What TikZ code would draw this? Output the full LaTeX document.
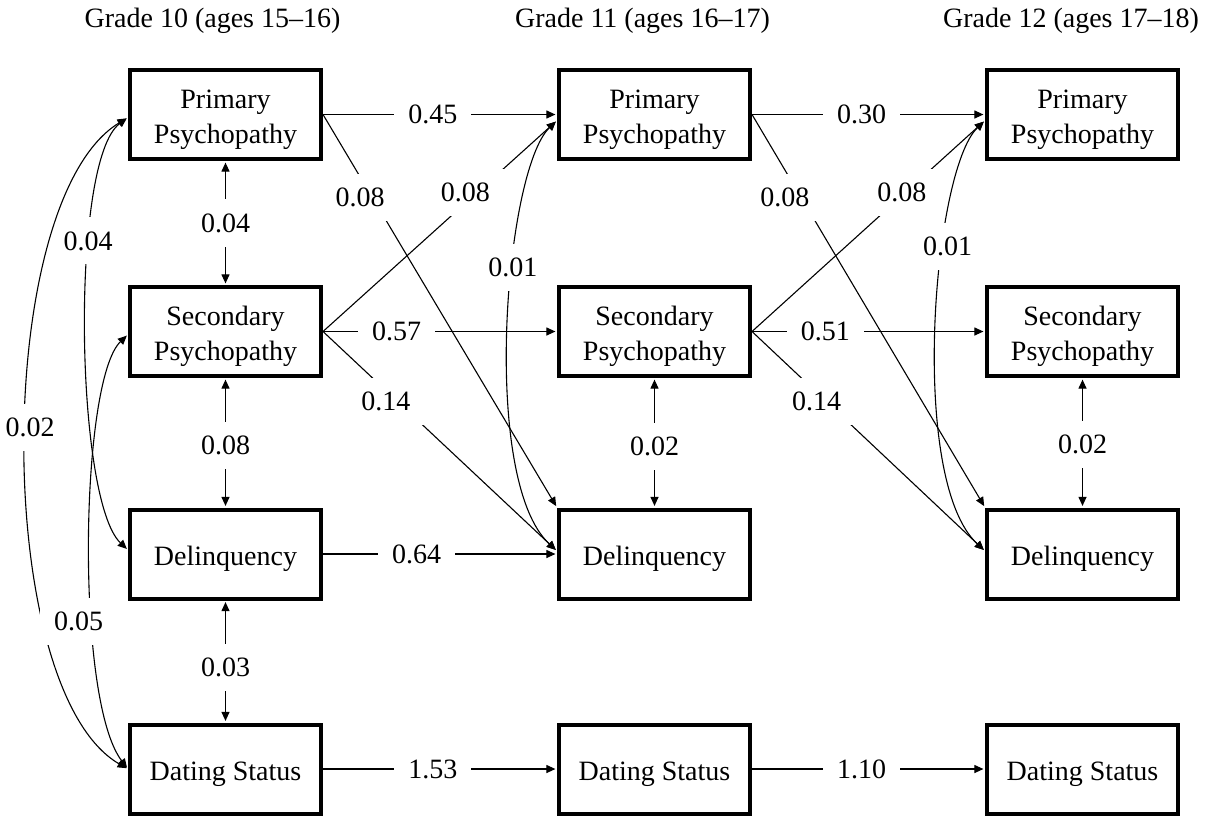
\documentclass[tikz,border=0pt]{standalone}
\usepackage{fontspec}
\setmainfont{Liberation Serif}
\usetikzlibrary{arrows.meta,calc}
% box caption: centred lines, set a little below the geometric centre
\newcommand{\boxtext}[1]{\raisebox{-2pt}[\height][\depth]{\begin{tabular}{@{}c@{}}#1\end{tabular}}}
\begin{document}
\begin{tikzpicture}[x=0.5pt,y=-0.5pt,
  txt/.style={font=\fontsize{14}{17.5}\selectfont},
  var/.style={txt,draw,line width=2pt,minimum width=95.5pt,minimum height=44.5pt,inner sep=0pt},
  conn/.style={line width=0.55pt,shorten >=0.8pt,-{Triangle[length=4.5pt,width=4pt]}},
  cov/.style={line width=0.55pt,shorten >=0.8pt,shorten <=0.8pt,{Triangle[length=4.5pt,width=4pt]}-{Triangle[length=4.5pt,width=4pt]}},
  coef/.style={txt,fill=white,inner sep=7pt}]
\useasboundingbox (0,0) rectangle (1209,815);

% column headings
\node[txt] (h10) at (212.5,21) {Grade 10 (ages 15--16)};
\node[txt] (h11) at (642.5,21) {Grade 11 (ages 16--17)};
\node[txt] (h12) at (1071,21) {Grade 12 (ages 17--18)};

% variables, one column per grade
\foreach \g/\x in {10/225.5,11/654.5,12/1082.5}{
  \node[var] (P\g) at (\x,114.5) {\boxtext{Primary\\Psychopathy}};
  \node[var] (S\g) at (\x,331.5) {\boxtext{Secondary\\Psychopathy}};
  \node[var] (D\g) at (\x,554) {\boxtext{Delinquency}};
  \node[var] (T\g) at (\x,769) {\boxtext{Dating Status}};
}

% attachment points on the left sides
\coordinate (P10a) at ($(P10.west)+(0,3)$);
\coordinate (S10a) at ($(S10.west)+(0,3)$);
\coordinate (D10a) at ($(D10.west)+(0,-4)$);
\coordinate (P11a) at ($(P11.west)+(0,6)$);
\coordinate (D11a) at ($(D11.west)+(0,-3)$);
\coordinate (P12a) at ($(P12.west)+(0,6)$);
\coordinate (D12a) at ($(D12.west)+(0,-3)$);

% within-grade covariances, grade 10
\draw[cov] (P10) -- node[coef,pos=0.5] {0.04} (S10);
\draw[cov] (S10) -- node[coef,pos=0.52] {0.08} (D10);
\draw[cov] (D10) -- node[coef,pos=0.55] {0.03} (T10);
\draw[cov] (P10a) .. controls (70,160) and (75,500) .. node[coef,pos=0.34,xshift=-1pt] {0.04} (D10a);
\draw[cov] (P10a) .. controls (-8,200) and (-8,690) .. node[coef,pos=0.48,xshift=2pt] {0.02} (T10.west);
\draw[cov] (S10a) .. controls (80,380) and (75,700) .. node[coef,pos=0.64,xshift=-7pt] {0.05} (T10.west);

% within-grade covariances, grades 11 and 12
\draw[cov] (S11) -- node[coef,pos=0.53] {0.02} (D11);
\draw[cov] (S12) -- node[coef,pos=0.51] {0.02} (D12);
\draw[cov] (P11a) .. controls (505,170) and (480,480) .. node[coef,pos=0.39] {0.01} (D11a);
\draw[cov] (P12a) .. controls (933,170) and (908,480) .. node[coef,pos=0.35,xshift=2pt] {0.01} (D12a);

% paths from grade 10 to grade 11
\draw[conn] (P10) -- node[coef,pos=0.47] {0.45} (P11);
\draw[conn] (P10.east) -- node[coef,pos=0.21,xshift=-6pt] {0.08} (D11.north west);
\draw[conn] (S10.east) -- node[coef,pos=0.66,xshift=-6pt] {0.08} (P11a);
\draw[conn] (S10) -- node[coef,pos=0.315] {0.57} (S11);
\draw[conn] (S10.east) -- node[coef,pos=0.32,xshift=-6pt] {0.14} (D11a);
\draw[conn] (D10) -- node[coef,pos=0.40] {0.64} (D11);
\draw[conn] (T10) -- node[coef,pos=0.47] {1.53} (T11);

% paths from grade 11 to grade 12
\draw[conn] (P11) -- node[coef,pos=0.47] {0.30} (P12);
\draw[conn] (P11.east) -- node[coef,pos=0.21,xshift=-8pt] {0.08} (D12.north west);
\draw[conn] (S11.east) -- node[coef,pos=0.66,xshift=-2pt] {0.08} (P12a);
\draw[conn] (S11) -- node[coef,pos=0.315] {0.51} (S12);
\draw[conn] (S11.east) -- node[coef,pos=0.32,xshift=-5pt] {0.14} (D12a);
\draw[conn] (T11) -- node[coef,pos=0.47] {1.10} (T12);
\end{tikzpicture}
\end{document}
